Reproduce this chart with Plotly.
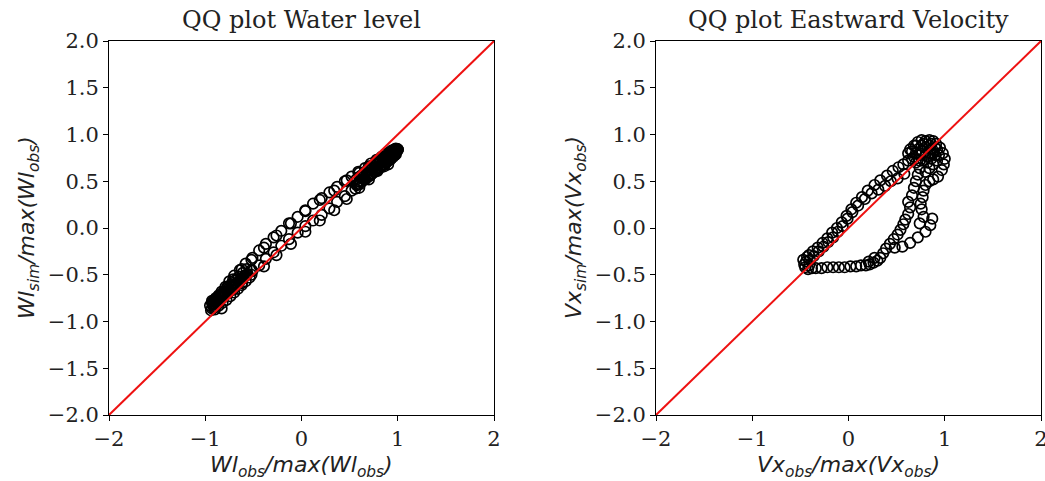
import plotly.graph_objects as go

# Normalised water level: observed vs simulated quantiles
wl_obs = [
    -0.92, -0.92, -0.91, -0.89, -0.86, -0.83, -0.79, -0.75, -0.70, -0.64, -0.58, -0.51,
    -0.44, -0.37, -0.29, -0.21, -0.13, -0.04, 0.04, 0.12, 0.21, 0.29, 0.37, 0.45,
    0.52, 0.59, 0.66, 0.72, 0.78, 0.83, 0.87, 0.91, 0.94, 0.97, 0.99, 1.00, 1.00,
    1.00, 0.99, 0.97, 0.94, 0.91, 0.87, 0.83, 0.78, 0.72, 0.66, 0.59, 0.52, 0.45,
    0.37, 0.29, 0.21, 0.12, 0.04, -0.04, -0.13, -0.21, -0.29, -0.37, -0.44, -0.51,
    -0.58, -0.64, -0.70, -0.75, -0.79, -0.83, -0.86, -0.89, -0.91, -0.92,
    -0.82, -0.81, -0.77, -0.71, -0.62, -0.52, -0.39, -0.26, -0.11, 0.04, 0.19, 0.34,
    0.47, 0.60, 0.70, 0.79, 0.85, 0.89, 0.90,
    0.89, 0.85, 0.79, 0.70, 0.60, 0.47, 0.34, 0.19, 0.04, -0.11, -0.26, -0.39,
    -0.52, -0.62, -0.71, -0.77, -0.81,
    0.60, 0.64, 0.68, 0.72, 0.76, 0.80, 0.84, 0.88, 0.92, 0.95, 0.97,
    0.62, 0.66, 0.70, 0.74, 0.78, 0.82, 0.86, 0.90, 0.93, 0.96, 0.98,
    0.58, 0.63, 0.68, 0.73, 0.78, 0.83, 0.88, 0.92, 0.95, 0.98, 0.90, 0.86,
    0.56, 0.61, 0.66, 0.71, 0.76, 0.81, 0.86,
    0.57, 0.61, 0.65, 0.69, 0.73, 0.77, 0.81, 0.85, 0.89, 0.93, 0.97,
    0.57, 0.61, 0.65, 0.69, 0.73, 0.77, 0.81, 0.85, 0.89, 0.93, 0.97,
    -0.90, -0.88, -0.86, -0.84, -0.82, -0.80, -0.78, -0.76, -0.74, -0.72, -0.70,
    -0.68, -0.66, -0.64, -0.62, -0.60, -0.58, -0.56, -0.54,
    -0.95, -0.93, -0.91, -0.89, -0.87, -0.85, -0.94, -0.90, -0.83, -0.79,
    -0.52, -0.57, -0.62, -0.67, -0.72, -0.77, -0.82, -0.86,
    -0.93, -0.89, -0.85, -0.81, -0.77, -0.73, -0.69, -0.65, -0.61, -0.57,
    -0.93, -0.89, -0.85, -0.81, -0.77, -0.73, -0.69, -0.65, -0.61, -0.57,
]
wl_sim = [
    -0.82, -0.81, -0.78, -0.75, -0.72, -0.68, -0.63, -0.57, -0.51, -0.45, -0.38, -0.32,
    -0.24, -0.17, -0.10, -0.03, 0.05, 0.12, 0.19, 0.26, 0.32, 0.38, 0.44, 0.50,
    0.55, 0.60, 0.64, 0.69, 0.73, 0.76, 0.79, 0.81, 0.83, 0.84, 0.84, 0.84, 0.84,
    0.84, 0.82, 0.80, 0.78, 0.75, 0.71, 0.66, 0.62, 0.57, 0.52, 0.47, 0.40, 0.34,
    0.28, 0.21, 0.14, 0.08, 0.02, -0.05, -0.12, -0.19, -0.26, -0.33, -0.40, -0.46,
    -0.51, -0.56, -0.61, -0.67, -0.70, -0.74, -0.78, -0.80, -0.81, -0.82,
    -0.72, -0.69, -0.63, -0.55, -0.44, -0.34, -0.21, -0.08, 0.05, 0.18, 0.30, 0.40,
    0.51, 0.59, 0.66, 0.72, 0.75, 0.77, 0.75,
    0.73, 0.68, 0.61, 0.52, 0.43, 0.31, 0.19, 0.08, -0.04, -0.17, -0.29, -0.41,
    -0.50, -0.59, -0.66, -0.70, -0.72,
    0.50, 0.55, 0.58, 0.62, 0.65, 0.68, 0.71, 0.74, 0.77, 0.80, 0.82,
    0.56, 0.60, 0.63, 0.67, 0.70, 0.73, 0.76, 0.79, 0.81, 0.83, 0.85,
    0.46, 0.50, 0.54, 0.58, 0.62, 0.66, 0.70, 0.73, 0.76, 0.79, 0.68, 0.66,
    0.42, 0.47, 0.52, 0.56, 0.60, 0.64, 0.68,
    0.46, 0.49, 0.52, 0.55, 0.58, 0.62, 0.65, 0.68, 0.71, 0.74, 0.78,
    0.52, 0.55, 0.58, 0.61, 0.64, 0.68, 0.71, 0.74, 0.77, 0.80, 0.84,
    -0.84, -0.80, -0.83, -0.76, -0.80, -0.72, -0.77, -0.68, -0.73, -0.64, -0.69,
    -0.60, -0.65, -0.56, -0.61, -0.52, -0.57, -0.49, -0.53,
    -0.83, -0.78, -0.85, -0.77, -0.81, -0.74, -0.88, -0.87, -0.86, -0.70,
    -0.45, -0.50, -0.55, -0.59, -0.62, -0.66, -0.70, -0.73,
    -0.86, -0.82, -0.78, -0.74, -0.70, -0.66, -0.62, -0.58, -0.54, -0.50,
    -0.80, -0.76, -0.72, -0.68, -0.64, -0.60, -0.56, -0.52, -0.48, -0.44,
]

# Normalised eastward velocity: observed vs simulated quantiles
vx_obs = [
    -0.44, -0.46, -0.45, -0.42, -0.47, -0.41, -0.43, -0.38,
    -0.34, -0.28, -0.22, -0.16, -0.10, -0.04, 0.02, 0.08, 0.13, 0.18, 0.22, 0.26, 0.30, 0.33,
    0.21, 0.27,
    0.36, 0.39, 0.43, 0.47, 0.51, 0.54, 0.57, 0.59,
    0.48, 0.56, 0.64, 0.72, 0.80, 0.85, 0.87,
    0.62, 0.64, 0.62, 0.66, 0.68, 0.70, 0.72, 0.74,
    0.74, 0.78, 0.76, 0.75, 0.77, 0.78, 0.80, 0.84, 0.88, 0.93, 0.97, 0.99, 1.00, 0.98, 0.95,
    0.70, 0.68, 0.66, 0.68, 0.72, 0.76, 0.80, 0.84, 0.88, 0.91, 0.92, 0.90, 0.86, 0.82,
    0.78, 0.74, 0.72, 0.76, 0.80, 0.84, 0.87, 0.84, 0.80, 0.76, 0.70, 0.66, 0.64, 0.70,
    0.78, 0.86, 0.90, 0.88, 0.82, 0.74, 0.62, 0.88, 0.92, 0.94, 0.84, 0.80,
    0.62, 0.57, 0.52, 0.46, 0.40, 0.33, 0.27, 0.20, 0.14, 0.08, 0.03, -0.02, -0.07, -0.12,
    -0.17, -0.22, -0.27, -0.32, -0.37, -0.41,
    0.58, 0.51, 0.44, 0.38, 0.31, 0.24, 0.17, 0.10, 0.04, -0.01, -0.06, -0.11, -0.16,
    -0.21, -0.26, -0.31, -0.36, -0.40,
]
vx_sim = [
    -0.36, -0.39, -0.42, -0.44, -0.34, -0.40, -0.31, -0.43,
    -0.43, -0.43, -0.42, -0.42, -0.42, -0.42, -0.41, -0.41, -0.40, -0.40, -0.39, -0.37, -0.35, -0.32,
    -0.36, -0.32,
    -0.27, -0.22, -0.17, -0.12, -0.07, -0.02, 0.04, 0.09,
    -0.21, -0.20, -0.16, -0.10, -0.04, 0.03, 0.10,
    0.15, 0.22, 0.28, 0.35, 0.43, 0.50, 0.57, 0.64,
    0.05, 0.12, 0.20, 0.26, 0.33, 0.40, 0.46, 0.50, 0.52, 0.55, 0.62, 0.68, 0.74, 0.80, 0.86,
    0.70, 0.76, 0.82, 0.88, 0.92, 0.94, 0.93, 0.94, 0.93, 0.90, 0.84, 0.78, 0.74, 0.70,
    0.72, 0.78, 0.84, 0.88, 0.86, 0.88, 0.84, 0.80, 0.78, 0.82, 0.80, 0.74, 0.84, 0.88,
    0.90, 0.90, 0.86, 0.80, 0.76, 0.72, 0.80, 0.68, 0.72, 0.78, 0.64, 0.60,
    0.72, 0.68, 0.65, 0.61, 0.56, 0.51, 0.46, 0.40, 0.33, 0.27, 0.20, 0.13, 0.06, 0.00,
    -0.05, -0.11, -0.16, -0.21, -0.25, -0.29,
    0.58, 0.53, 0.50, 0.45, 0.41, 0.37, 0.31, 0.24, 0.17, 0.10, 0.02, -0.04, -0.10,
    -0.15, -0.20, -0.25, -0.30, -0.34,
]

ref_line = [-2, 2]
x_ticks = [-2, -1, 0, 1, 2]
y_ticks = [-2.0, -1.5, -1.0, -0.5, 0.0, 0.5, 1.0, 1.5, 2.0]

W, H = 1045, 481
TICK_FONT = dict(family="DejaVu Serif", size=21, color="#222")
TITLE_FONT = dict(family="DejaVu Serif", size=24, color="#222")
LABEL_FONT = dict(family="DejaVu Sans", size=22, color="#222")

marker = dict(symbol="circle-open", size=10.5, color="black", line=dict(width=1.7, color="black"))

fig = go.Figure()
fig.add_trace(go.Scatter(x=wl_obs, y=wl_sim, mode="markers", marker=marker,
                         xaxis="x", yaxis="y", showlegend=False))
fig.add_trace(go.Scatter(x=ref_line, y=ref_line, mode="lines",
                         line=dict(color="#ee1111", width=2), xaxis="x", yaxis="y",
                         showlegend=False))
fig.add_trace(go.Scatter(x=vx_obs, y=vx_sim, mode="markers", marker=marker,
                         xaxis="x2", yaxis="y2", showlegend=False))
fig.add_trace(go.Scatter(x=ref_line, y=ref_line, mode="lines",
                         line=dict(color="#ee1111", width=2), xaxis="x2", yaxis="y2",
                         showlegend=False))


def px_x(p):
    return p / W


def px_y(p):
    return 1 - p / H


y_dom = [px_y(415), px_y(41)]

common = dict(range=[-2, 2], ticks="outside", ticklen=5, tickwidth=1, tickcolor="black",
              showline=True, linecolor="black", linewidth=1, mirror=True,
              showgrid=False, zeroline=False, tickfont=TICK_FONT, automargin=False,
              ticklabeloverflow="allow")
common_x = dict(tickvals=x_ticks, tickformat="d", **common)
common_y = dict(tickvals=y_ticks, tickformat=".1f", **common)

fig.update_layout(
    template="none",
    width=W, height=H,
    margin=dict(l=0, r=0, t=0, b=0, pad=0),
    paper_bgcolor="white", plot_bgcolor="white",
    xaxis=dict(domain=[px_x(109), px_x(494)], anchor="y", **common_x),
    yaxis=dict(domain=y_dom, anchor="x", **common_y),
    xaxis2=dict(domain=[px_x(656), px_x(1041)], anchor="y2", **common_x),
    yaxis2=dict(domain=y_dom, anchor="x2", **common_y),
)


def label(name, sub, norm):
    return (f"<i>{name}</i><sub><i>{sub}</i></sub><i>/max({name}</i>"
            f"<sub><i>{norm}</i></sub><i>)</i>")


annotations = [
    dict(text="QQ plot Water level", x=px_x(301), y=px_y(20), font=TITLE_FONT),
    dict(text="QQ plot Eastward Velocity", x=px_x(848), y=px_y(20), font=TITLE_FONT),
    dict(text=label("Wl", "obs", "obs"), x=px_x(301), y=px_y(466), font=LABEL_FONT),
    dict(text=label("Vx", "obs", "obs"), x=px_x(848), y=px_y(466), font=LABEL_FONT),
    dict(text=label("Wl", "sim", "obs"), x=px_x(28), y=px_y(228), textangle=-90, font=LABEL_FONT),
    dict(text=label("Vx", "sim", "obs"), x=px_x(575), y=px_y(228), textangle=-90, font=LABEL_FONT),
]
for a in annotations:
    a.update(xref="paper", yref="paper", showarrow=False, xanchor="center", yanchor="middle")
fig.update_layout(annotations=annotations)

fig.write_html("out.html")
